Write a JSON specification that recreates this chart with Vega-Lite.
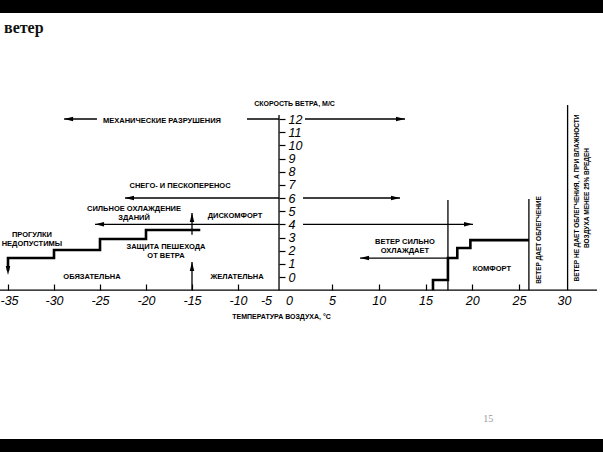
{
  "$schema": "https://vega.github.io/schema/vega-lite/v6.json",
  "width": 603,
  "height": 426,
  "autosize": {"type": "none"},
  "padding": {"top": 13, "bottom": 13, "left": 0, "right": 0},
  "background": "black",
  "title": {
    "text": "ветер",
    "anchor": "start",
    "frame": "group",
    "orient": "top",
    "offset": -36,
    "dx": 4,
    "baseline": "alphabetic",
    "font": "Liberation Serif",
    "fontSize": 16,
    "fontWeight": "bold",
    "color": "#111111"
  },
  "config": {
    "view": {"fill": "white", "stroke": null},
    "font": "Liberation Sans"
  },
  "datasets": {
    "rules": [
      {"x": -2.17, "y": -1, "x2": -2.17, "y2": 12.3},
      {"x": -35.87, "y": -1, "x2": 33.67, "y2": -1},
      {"x": -28.9, "y": 12, "x2": -25.33, "y2": 12},
      {"x": -8.39, "y": 12, "x2": -2.17, "y2": 12},
      {"x": 1.86, "y": 12, "x2": 12.81, "y2": 12},
      {"x": -22.28, "y": 6, "x2": -2.17, "y2": 6},
      {"x": 1.63, "y": 6, "x2": 12.27, "y2": 6},
      {"x": -25.54, "y": 4, "x2": -2.17, "y2": 4},
      {"x": 1.63, "y": 4, "x2": 20.08, "y2": 4},
      {"x": 8.0, "y": 1.44, "x2": 17.3, "y2": 1.44},
      {"x": -15, "y": 3.2, "x2": -15, "y2": 4.86},
      {"x": -15, "y": -1, "x2": -15, "y2": 1.14},
      {"x": 17.4, "y": 5.85, "x2": 17.4, "y2": -1},
      {"x": 26.1, "y": 5.92, "x2": 26.1, "y2": -1},
      {"x": 30.4, "y": 13.06, "x2": 30.4, "y2": -1}
    ],
    "steps": [
      {"g": "cold", "i": 0, "x": -35, "y": 0.5},
      {"g": "cold", "i": 1, "x": -35, "y": 1.44},
      {"g": "cold", "i": 2, "x": -30, "y": 2.05},
      {"g": "cold", "i": 3, "x": -25, "y": 2.89},
      {"g": "cold", "i": 4, "x": -20, "y": 3.57},
      {"g": "cold", "i": 5, "x": -14.1, "y": 3.57},
      {"g": "warm", "i": 0, "x": 15.8, "y": -1},
      {"g": "warm", "i": 1, "x": 15.8, "y": -0.23},
      {"g": "warm", "i": 2, "x": 17.4, "y": 1.44},
      {"g": "warm", "i": 3, "x": 18.4, "y": 2.2},
      {"g": "warm", "i": 4, "x": 19.8, "y": 2.8},
      {"g": "warm", "i": 5, "x": 26.1, "y": 2.8}
    ],
    "heads": [
      {"x": -28.9, "y": 12, "dir": "left"},
      {"x": 12.81, "y": 12, "dir": "right"},
      {"x": -22.28, "y": 6, "dir": "left"},
      {"x": 12.27, "y": 6, "dir": "right"},
      {"x": -25.54, "y": 4, "dir": "left"},
      {"x": 20.08, "y": 4, "dir": "right"},
      {"x": 8.0, "y": 1.44, "dir": "left"},
      {"x": -35, "y": 0.15, "dir": "down"},
      {"x": -15, "y": 4.86, "dir": "up"},
      {"x": -15, "y": 1.14, "dir": "up"}
    ],
    "labels": [
      {"x": -18.26, "y": 11.85, "label": "МЕХАНИЧЕСКИЕ РАЗРУШЕНИЯ"},
      {"x": -16.3, "y": 6.91, "label": "СНЕГО- И ПЕСКОПЕРЕНОС"},
      {"x": -21.3, "y": 5.16, "label": "СИЛЬНОЕ ОХЛАЖДЕНИЕ\nЗДАНИЙ"},
      {"x": -10.33, "y": 4.63, "label": "ДИСКОМФОРТ"},
      {"x": -32.4, "y": 3.19, "label": "ПРОГУЛКИ\nНЕДОПУСТИМЫ"},
      {"x": -17.83, "y": 2.28, "label": "ЗАЩИТА ПЕШЕХОДА\nОТ ВЕТРА"},
      {"x": -25.87, "y": 0, "label": "ОБЯЗАТЕЛЬНА"},
      {"x": -10.1, "y": 0, "label": "ЖЕЛАТЕЛЬНА"},
      {"x": 12.8, "y": 2.66, "label": "ВЕТЕР СИЛЬНО\nОХЛАЖДАЕТ"},
      {"x": 22.1, "y": 0.61, "label": "КОМФОРТ"}
    ],
    "vlabels": [
      {"x": 27.2, "y": 2.81, "label": "ВЕТЕР ДАЕТ ОБЛЕГЧЕНИЕ"},
      {"x": 31.45, "y": 6.0, "label": "ВЕТЕР НЕ ДАЕТ ОБЛЕГЧЕНИЯ, А ПРИ ВЛАЖНОСТИ\nВОЗДУХА МЕНЕЕ 25% ВРЕДЕН"}
    ],
    "page": [
      {"x": 21.7, "y": -10.78, "label": "15"}
    ]
  },
  "encoding": {
    "x": {
      "field": "x",
      "type": "quantitative",
      "scale": {
        "domain": [-35, -10, -5, 0, 5, 25, 30],
        "range": [8, 238, 266, 289, 332, 519, 564],
        "zero": false,
        "nice": false
      },
      "axis": {
        "orient": "bottom",
        "offset": -149,
        "domain": false,
        "grid": false,
        "values": [-35, -30, -25, -20, -15, -10, -5, 0, 5, 10, 15, 20, 25, 30],
        "format": "d",
        "labelExpr": "replace(datum.label, '−', '-')",
        "tickSize": -6,
        "tickWidth": 1.2,
        "tickColor": "black",
        "tickOpacity": {"condition": {"test": "datum.value === -5 || datum.value === 0 || datum.value === 30", "value": 0}, "value": 1},
        "labelPadding": 10,
        "labelAlign": {"condition": {"test": "datum.value === -35", "value": "left"}, "value": "center"},
        "labelOffset": {"condition": {"test": "datum.value === -35", "value": -8}, "value": 0},
        "labelFont": "Liberation Sans",
        "labelFontStyle": "italic",
        "labelFontSize": 12.5,
        "labelColor": "black",
        "labelFlush": false,
        "labelOverlap": false,
        "title": "ТЕМПЕРАТУРА ВОЗДУХА, °С",
        "titleX": 281,
        "titleY": 26,
        "titleAlign": "center",
        "titleBaseline": "middle",
        "titleFont": "Liberation Sans",
        "titleFontSize": 7,
        "titleFontWeight": "bold",
        "titleColor": "black"
      }
    },
    "y": {
      "field": "y",
      "type": "quantitative",
      "scale": {"domain": [0, 12], "range": [264, 106], "zero": false, "nice": false},
      "axis": {
        "orient": "right",
        "offset": -324,
        "domain": false,
        "grid": false,
        "values": [0, 1, 2, 3, 4, 5, 6, 7, 8, 9, 10, 11, 12],
        "tickSize": 6,
        "tickWidth": 1.2,
        "tickColor": "black",
        "labelPadding": 3,
        "labelFont": "Liberation Sans",
        "labelFontStyle": "italic",
        "labelFontSize": 12.5,
        "labelColor": "black",
        "labelFlush": false,
        "labelOverlap": false,
        "title": "СКОРОСТЬ ВЕТРА, М/С",
        "titleAngle": 0,
        "titleX": 15,
        "titleY": 90,
        "titleAlign": "center",
        "titleBaseline": "middle",
        "titleFont": "Liberation Sans",
        "titleFontSize": 7,
        "titleFontWeight": "bold",
        "titleColor": "black"
      }
    }
  },
  "layer": [
    {
      "data": {"name": "rules"},
      "mark": {"type": "rule", "strokeWidth": 1.3, "color": "black"},
      "encoding": {"x2": {"field": "x2"}, "y2": {"field": "y2"}}
    },
    {
      "data": {"name": "steps"},
      "mark": {"type": "line", "interpolate": "step-after", "strokeWidth": 2.6, "color": "black"},
      "encoding": {
        "detail": {"field": "g", "type": "nominal"},
        "order": {"field": "i", "type": "quantitative"}
      }
    },
    {
      "data": {"name": "heads"},
      "mark": {"type": "point", "filled": true, "color": "black", "opacity": 1, "size": 81},
      "encoding": {
        "shape": {
          "field": "dir",
          "type": "nominal",
          "scale": {
            "domain": ["left", "right", "up", "down"],
            "range": ["M0,0L2,-0.5L2,0.5Z", "M0,0L-2,-0.5L-2,0.5Z", "M0,0L-0.5,2L0.5,2Z", "M0,0L-0.5,-2L0.5,-2Z"]
          },
          "legend": null
        }
      }
    },
    {
      "data": {"name": "labels"},
      "mark": {"type": "text", "font": "Liberation Sans", "fontWeight": "bold", "fontSize": 7.5, "lineBreak": "\n", "lineHeight": 9, "align": "center", "baseline": "middle", "color": "black"},
      "encoding": {"text": {"field": "label"}}
    },
    {
      "data": {"name": "vlabels"},
      "mark": {"type": "text", "font": "Liberation Sans", "fontWeight": "bold", "fontSize": 6.5, "angle": 270, "lineBreak": "\n", "lineHeight": 10, "align": "center", "baseline": "middle", "color": "black"},
      "encoding": {"text": {"field": "label"}}
    },
    {
      "data": {"name": "page"},
      "mark": {"type": "text", "font": "Liberation Serif", "fontSize": 10, "align": "center", "baseline": "middle", "color": "#9a9a9a"},
      "encoding": {"text": {"field": "label"}}
    }
  ]
}
